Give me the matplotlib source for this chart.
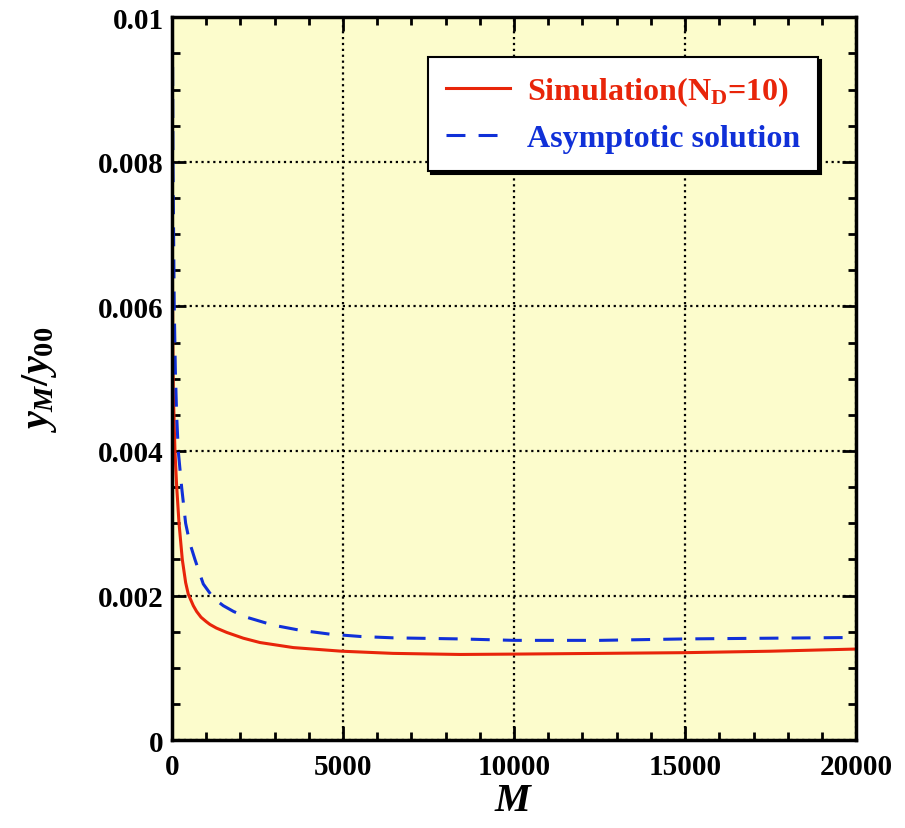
import matplotlib
matplotlib.use("Agg")
import matplotlib.pyplot as plt
from matplotlib.ticker import MultipleLocator, FixedFormatter, FixedLocator

# valori
sim_M = [4, 8, 15, 25, 40, 88, 137, 205, 302, 400, 477, 624, 721, 850, 1000, 1111,
         1300, 1600, 2086, 2573, 3550, 4960, 6460, 8420, 10000, 12500, 15000,
         17500, 20000]
sim_y = [0.0105, 0.0080, 0.0064, 0.0055, 0.0048, 0.0040, 0.00352, 0.00301, 0.0025,
         0.00218, 0.00202, 0.00186, 0.00178, 0.00170, 0.00164, 0.00160, 0.00155,
         0.00149, 0.00141, 0.00135, 0.00128, 0.00123, 0.00120, 0.001185, 0.00119,
         0.00120, 0.00121, 0.00123, 0.00126]

asy_M = [12, 30, 67, 100, 137, 185, 283, 400, 520, 672, 800, 916, 1160, 1306, 1500,
         1800, 2183, 2963, 3743, 4620, 5500, 6470, 8420, 10000, 12500, 15000,
         17500, 20000]
asy_y = [0.0102, 0.0080, 0.0060, 0.0051, 0.0045, 0.0040, 0.0035, 0.0030, 0.00273,
         0.0025, 0.00232, 0.00216, 0.0020, 0.00193, 0.00186, 0.00178, 0.00170,
         0.00159, 0.00152, 0.001466, 0.001434, 0.001415, 0.0014, 0.00138, 0.00138,
         0.0014, 0.00141, 0.00142]

x_ticks = [0, 5000, 10000, 15000, 20000]
x_labels = ['0', '5000', '10000', '15000', '20000']
y_ticks = [0, 0.002, 0.004, 0.006, 0.008, 0.01]
y_labels = ['0', '0.002', '0.004', '0.006', '0.008', '0.01']

plt.rcParams['font.family'] = 'Liberation Serif'
plt.rcParams['font.weight'] = 'bold'
plt.rcParams['mathtext.fontset'] = 'custom'
plt.rcParams['mathtext.rm'] = 'Liberation Serif:bold'
plt.rcParams['mathtext.it'] = 'Liberation Serif:italic:bold'

red = '#e8250a'
blue = '#1030d8'

fig = plt.figure(figsize=(9.05, 8.29), dpi=100)
ax = fig.add_axes([0.190, 0.106, 0.756, 0.872])
ax.set_facecolor('#fcfccc')

ax.plot(sim_M, sim_y, color=red, lw=2.2, label=r'Simulation(N$_\mathrm{D}$=10)')
ax.plot(asy_M, asy_y, color=blue, lw=2.2, dashes=[6.2, 4.3], label='Asymptotic solution')

ax.set_xlim(0, 20000)
ax.set_ylim(0, 0.01)
ax.xaxis.set_major_locator(FixedLocator(x_ticks))
ax.xaxis.set_major_formatter(FixedFormatter(x_labels))
ax.yaxis.set_major_locator(FixedLocator(y_ticks))
ax.yaxis.set_major_formatter(FixedFormatter(y_labels))
ax.xaxis.set_minor_locator(MultipleLocator(1000))
ax.yaxis.set_minor_locator(MultipleLocator(0.0005))

ax.tick_params(which='both', direction='in', top=True, right=True, width=2,
               labelsize=21)
ax.tick_params(axis='x', pad=9)
ax.tick_params(axis='y', pad=6)
ax.tick_params(which='major', length=10)
ax.tick_params(which='minor', length=6)
for s in ax.spines.values():
    s.set_linewidth(2.5)

ax.grid(True, which='major', color='black', linestyle=':', linewidth=1.6)

ax.set_xlabel(r'$M$', fontsize=29, labelpad=2)
ax.set_ylabel(r'$y_{M}/y_{\mathit{00}}$', fontsize=29, labelpad=28)

leg = ax.legend(loc='upper right', bbox_to_anchor=(0.944, 0.945), fontsize=23,
                fancybox=False, shadow={'color': 'black', 'alpha': 1},
                edgecolor='black', framealpha=1, handlelength=2.0,
                handletextpad=0.55, borderpad=0.55, labelspacing=0.5,
                borderaxespad=0)
leg.get_frame().set_linewidth(1.5)
leg.texts[0].set_color(red)
leg.texts[1].set_color(blue)

plt.savefig('out.png', dpi=100)
